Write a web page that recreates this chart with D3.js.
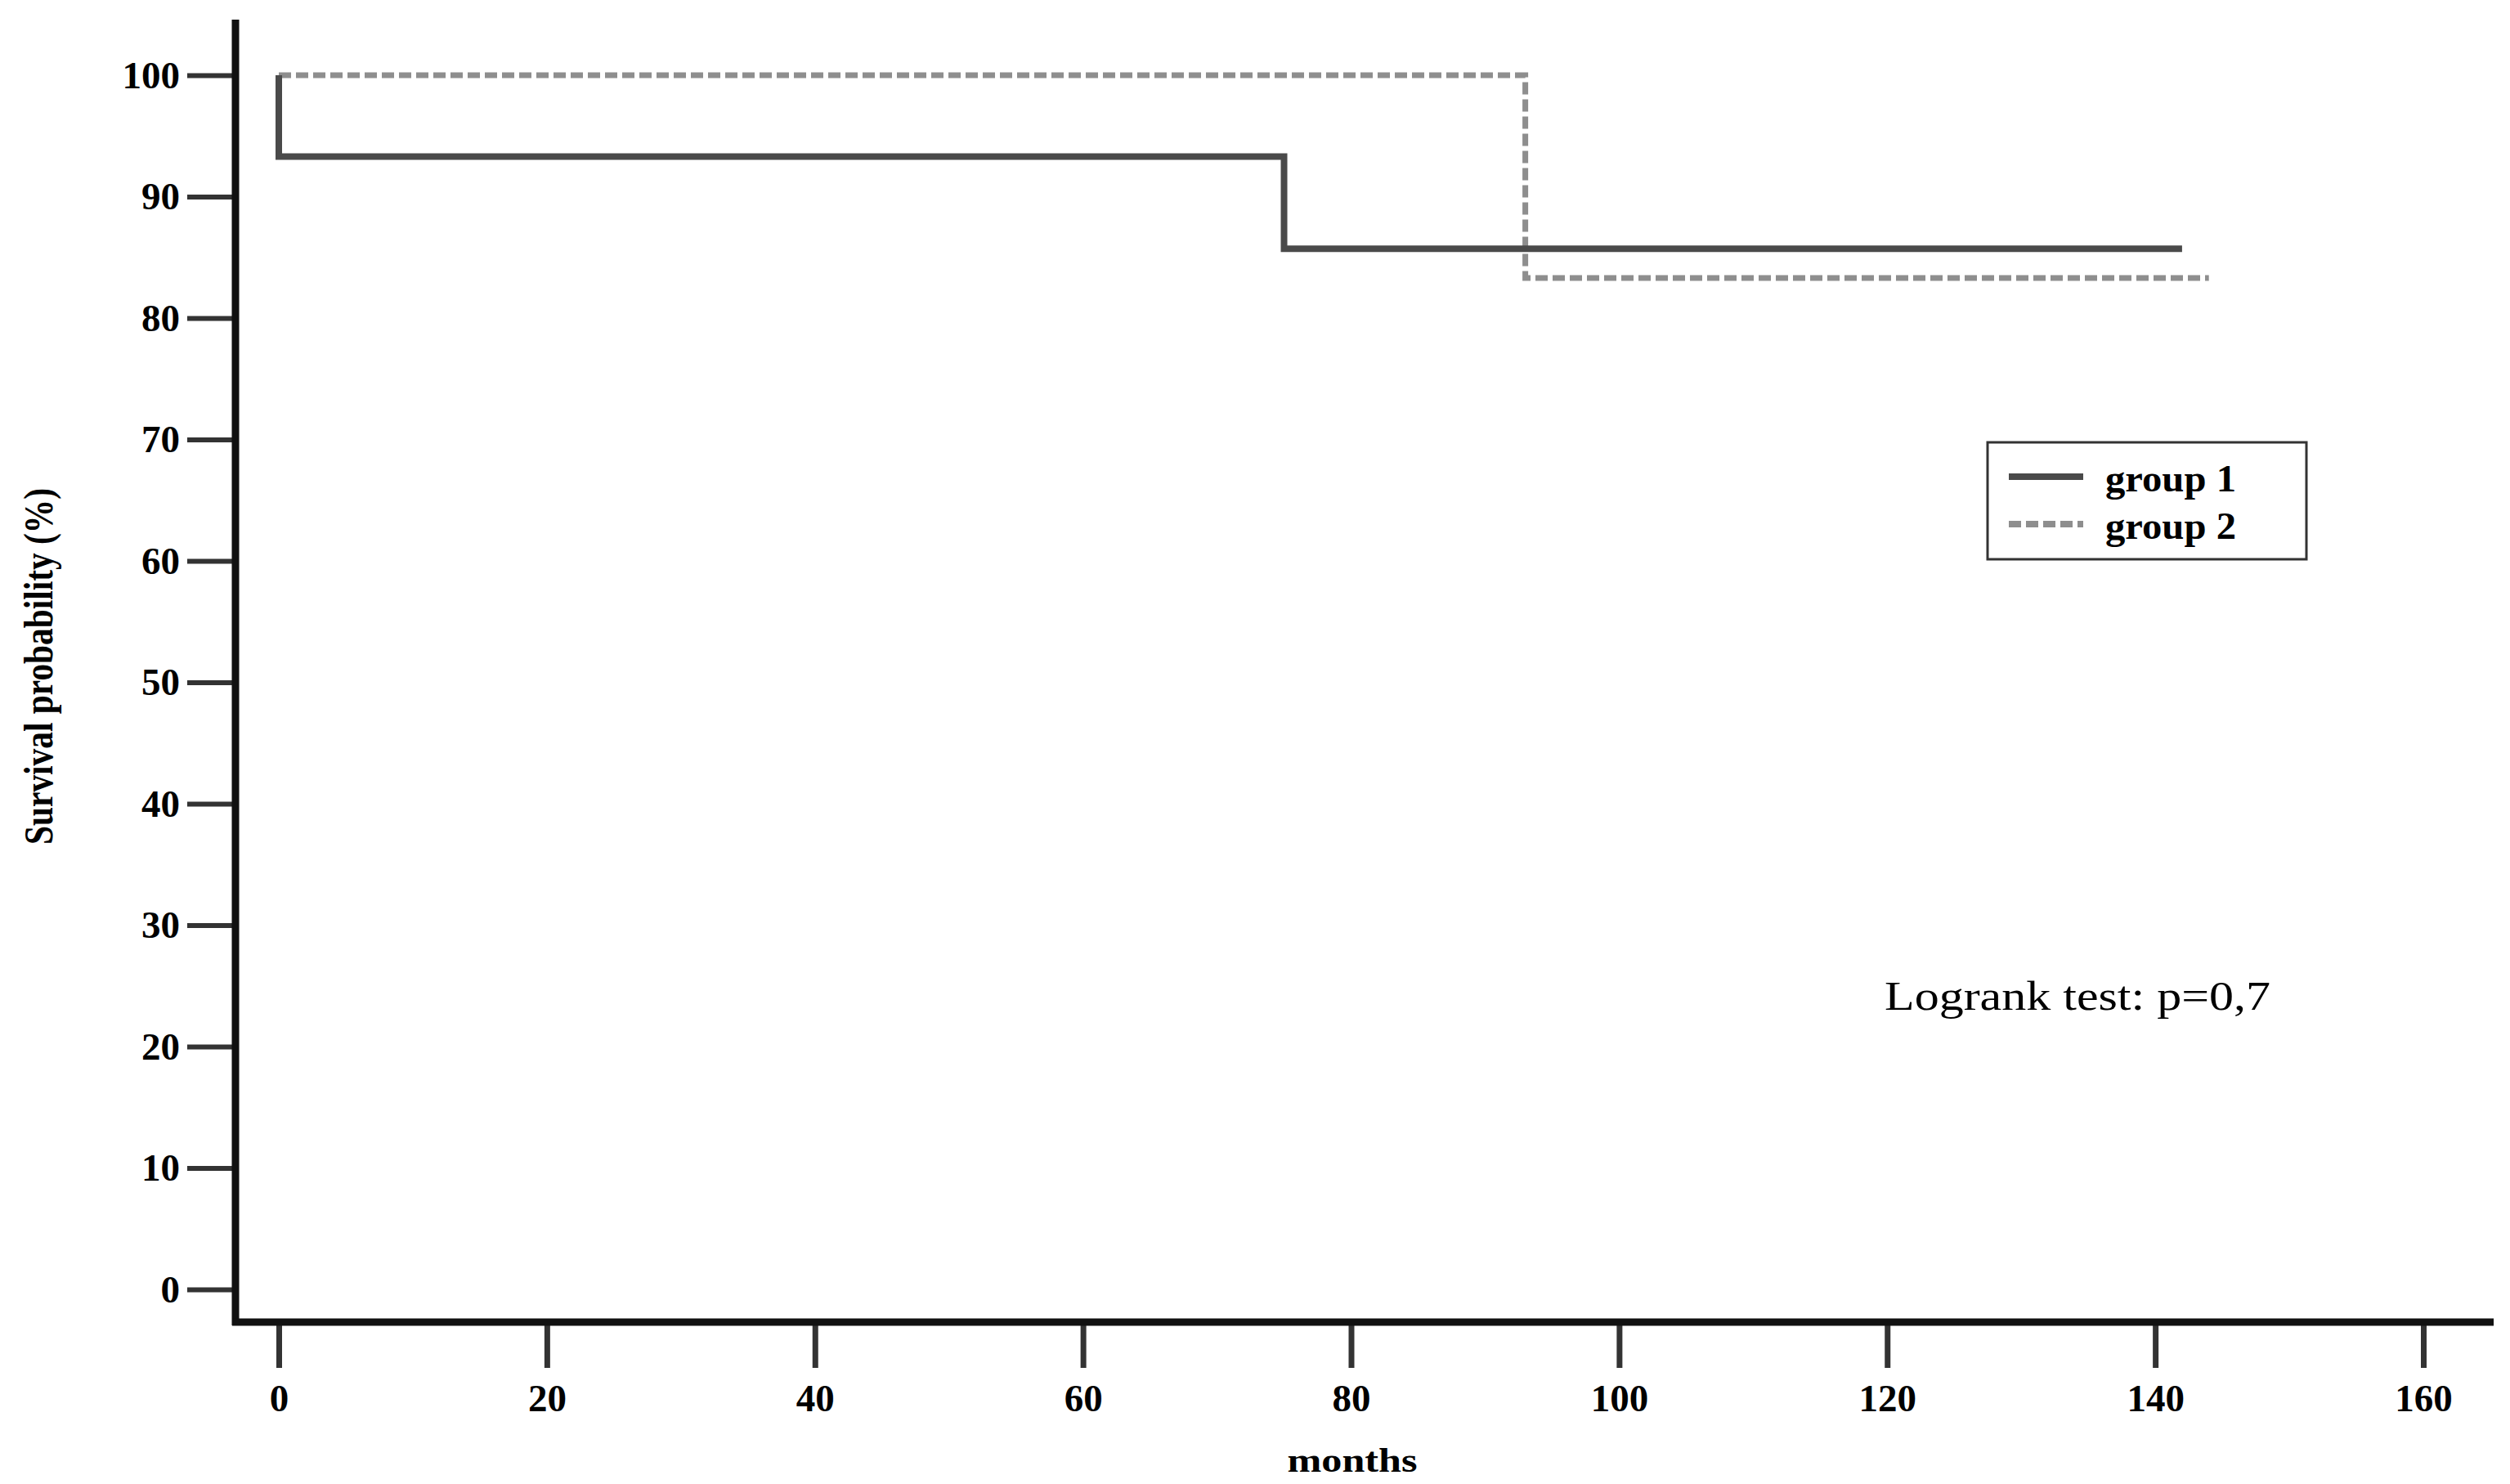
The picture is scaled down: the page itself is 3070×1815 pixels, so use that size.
<!DOCTYPE html>
<html>
<head>
<meta charset="utf-8">
<script src="https://cdnjs.cloudflare.com/ajax/libs/d3/7.8.5/d3.min.js"></script>
<style>
	html, body { margin: 0; padding: 0; background: #fff; }
	svg { display: block; }
	text { font-family: "Liberation Serif", "Times New Roman", serif; }
</style>
</head>
<body>
<div id="chart"></div>
<script>
// datos
var monthTicks = [0, 20, 40, 60, 80, 100, 120, 140, 160];
var survivalTicks = [0, 10, 20, 30, 40, 50, 60, 70, 80, 90, 100];
var seriesNames = ["group 1", "group 2"];
var group1Months = [0, 0, 75, 142];
var group1Survival = [100, 93.3, 85.7, 85.7];
var group2Months = [0, 93, 144];
var group2Survival = [100, 83.3, 83.3];
var logrankText = "Logrank test: p=0,7";

var W = 3070, H = 1815;

var svg = d3.select("#chart")
			.append("svg")
			.attr("width", W)
			.attr("height", H);

var x = d3.scaleLinear()
		  .domain([0, 160])
		  .range([341, 2964]);
var y = d3.scaleLinear()
		  .domain([0, 100])
		  .range([1577, 92]);

var axisColor = "#111";

//Eje Y
var yAxis = svg.append("g")
			   .attr("transform", "translate(284,0)")
			   .call(d3.axisLeft(y).tickValues(survivalTicks).tickSize(55).tickPadding(9));
yAxis.select(".domain").remove();
yAxis.selectAll(".tick line")
	 .attr("stroke", "#333")
	 .attr("stroke-width", 6);
yAxis.selectAll(".tick text")
	 .attr("fill", "#000")
	 .style("font-size", "47px")
	 .style("font-weight", "bold");

//Eje X
var xAxis = svg.append("g")
			   .attr("transform", "translate(0,1617)")
			   .call(d3.axisBottom(x).tickValues(monthTicks).tickSize(56).tickPadding(20));
xAxis.select(".domain").remove();
xAxis.selectAll(".tick line")
	 .attr("stroke", "#333")
	 .attr("stroke-width", 7);
xAxis.selectAll(".tick text")
	 .attr("fill", "#000")
	 .style("font-size", "47px")
	 .style("font-weight", "bold");

//Lineas de los ejes
svg.append("line")
   .attr("x1", 288).attr("x2", 288)
   .attr("y1", 24).attr("y2", 1621)
   .attr("stroke", axisColor)
   .attr("stroke-width", 9);
svg.append("line")
   .attr("x1", 284).attr("x2", 3050)
   .attr("y1", 1617).attr("y2", 1617)
   .attr("stroke", axisColor)
   .attr("stroke-width", 9);

//Curvas de supervivencia
var line = d3.line()
			 .x(function(d) { return x(d[0]); })
			 .y(function(d) { return y(d[1]); })
			 .curve(d3.curveStepAfter);

var group1 = d3.zip(group1Months, group1Survival);
var group2 = d3.zip(group2Months, group2Survival);

svg.append("path")
   .datum(group2)
   .attr("d", line)
   .attr("fill", "none")
   .attr("stroke", "#8e8e8e")
   .attr("stroke-width", 7)
   .attr("stroke-dasharray", "15,6")
   .attr("stroke-linejoin", "miter");

svg.append("path")
   .datum(group1)
   .attr("d", line)
   .attr("fill", "none")
   .attr("stroke", "#4a4a4a")
   .attr("stroke-width", 8)
   .attr("stroke-linejoin", "miter");

//Leyenda
var legend = svg.append("g");
legend.append("rect")
	  .attr("x", 2431).attr("y", 541)
	  .attr("width", 390).attr("height", 143)
	  .attr("fill", "#fff")
	  .attr("stroke", "#333")
	  .attr("stroke-width", 3);

var legendStyles = [
	{ color: "#4a4a4a", dash: null },
	{ color: "#8e8e8e", dash: "15,6" }
];

seriesNames.forEach(function(name, i) {
	var ly = 583 + i * 58;
	legend.append("line")
		  .attr("x1", 2457).attr("x2", 2548)
		  .attr("y1", ly).attr("y2", ly)
		  .attr("stroke", legendStyles[i].color)
		  .attr("stroke-width", 8)
		  .attr("stroke-dasharray", legendStyles[i].dash);
	legend.append("text")
		  .attr("x", 2575)
		  .attr("y", ly + 18)
		  .attr("textLength", 160)
		  .attr("lengthAdjust", "spacingAndGlyphs")
		  .style("font-size", "46px")
		  .style("font-weight", "bold")
		  .text(name);
});

//Textos
svg.append("text")
   .attr("x", 2305)
   .attr("y", 1235)
   .attr("textLength", 472)
   .attr("lengthAdjust", "spacingAndGlyphs")
   .style("font-size", "50px")
   .text(logrankText);

svg.append("text")
   .attr("x", 1654)
   .attr("y", 1800)
   .attr("text-anchor", "middle")
   .attr("textLength", 159)
   .attr("lengthAdjust", "spacingAndGlyphs")
   .style("font-size", "42px")
   .style("font-weight", "bold")
   .text("months");

svg.append("text")
   .attr("transform", "translate(64,815) rotate(-90)")
   .attr("text-anchor", "middle")
   .attr("textLength", 436)
   .attr("lengthAdjust", "spacingAndGlyphs")
   .style("font-size", "50px")
   .style("font-weight", "bold")
   .text("Survival probability (%)");
</script>
</body>
</html>
